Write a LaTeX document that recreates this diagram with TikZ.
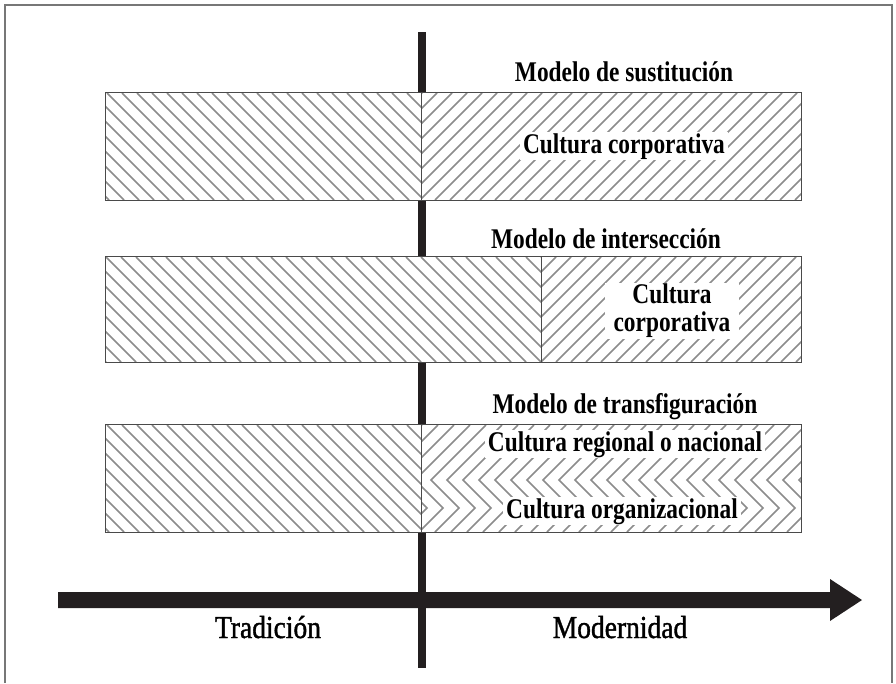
\documentclass[tikz,border=0pt]{standalone}
\usepackage{fontspec}
\newfontfamily\condserif[FakeStretch=0.82]{Liberation Serif}
\newfontfamily\axisserif[FakeStretch=0.86, FakeBold=1.2]{Liberation Serif}
\usetikzlibrary{positioning}
\definecolor{ink}{HTML}{231F20}
\definecolor{hatchgray}{HTML}{8C8C8C}
\definecolor{edgegray}{HTML}{4A4A4A}
\definecolor{framegray}{HTML}{777777}
\tikzset{
  band/.style={fill=white, inner sep=0pt, minimum width=695pt, minimum height=107pt},
  edge/.style={draw=edgegray, line width=1.3pt},
  hatch/.style={draw=hatchgray, line width=1.6pt},
  title/.style={anchor=base, font=\condserif\bfseries\fontsize{28.5}{28}\selectfont},
  tag/.style={title, fill=white, inner xsep=3pt, inner ysep=1pt},
  era/.style={anchor=base, font=\axisserif\fontsize{32}{34}\selectfont},
}

\begin{document}
\begin{tikzpicture}[x=1pt, y=-1pt]
  \useasboundingbox (0,0) rectangle (896,683);
  % Frame
  \draw[framegray, line width=2pt] (5,683) -- (5,5) -- (892,5) -- (892,683);

  % Axis and timeline
  \coordinate (axis top) at (421.5,32);
  \coordinate (axis bottom) at (421.5,668);
  \coordinate (past) at (58,600);
  \coordinate (future) at (862,600);
  \draw[ink, line width=8pt] (axis top) -- (axis bottom);
  \fill[ink] ([yshift=8pt]past) -- ++(772,0) -- ++(0,-13) -- (future)
    -- ++(-32,21) -- ++(0,-13) -- ++(-772,0) -- cycle;

  % Substitution model
  \node[band] (sust) at (453.5,146.5) {};
  \begin{scope}
    \clip (sust.north west) rectangle (sust.south -| axis top);
    \foreach \x in {-118,-103,...,422} \draw[hatch] (\x,93) -- ++(107,107);
  \end{scope}
  \begin{scope}
    \clip (sust.north -| axis top) rectangle (sust.south east);
    \foreach \x in {422,437,...,932} \draw[hatch] (\x,93) -- ++(-107,107);
  \end{scope}
  \draw[edge] (sust.north west) rectangle (sust.south east);
  \draw[edge, line width=1pt] (sust.north -| axis top) -- (sust.south -| axis top);

  % Intersection model
  \node[band, minimum height=105pt] (inter) at (453.5,309.5) {};
  \coordinate (inter cut) at (541,309.5);
  \begin{scope}
    \clip (inter.north west) rectangle (inter.south -| inter cut);
    \foreach \x in {-14,1,...,541} \draw[hatch] (\x,257) -- ++(105,105);
  \end{scope}
  \begin{scope}
    \clip (inter.north -| inter cut) rectangle (inter.south east);
    \foreach \x in {541,556,...,1006} \draw[hatch] (\x,257) -- ++(-105,105);
  \end{scope}
  \draw[edge] (inter.north west) rectangle (inter.south east);
  \draw[edge, line width=1pt] (inter.north -| inter cut) -- (inter.south -| inter cut);

  % Transfiguration model
  \node[band] (trans) at (453.5,478.5) {};
  \begin{scope}
    \clip (trans.north west) rectangle (trans.south -| axis top);
    \foreach \x in {-118,-103,...,422} \draw[hatch] (\x,425) -- ++(107,107);
  \end{scope}
  \begin{scope}
    \clip (trans.north -| axis top) rectangle (trans.south east);
    \foreach \x in {422,438,...,950}
      \draw[hatch] (\x,425) -- ++(-55,55) -- ++(28,28) -- ++(-24,24);
  \end{scope}
  \draw[edge] (trans.north west) rectangle (trans.south east);
  \draw[edge, line width=1pt] (trans.north -| axis top) -- (trans.south -| axis top);

  % Labels
  \node[title] (sust title) at (624,81) {Modelo de sustitución};
  \node[tag] (sust tag) at (624,153) {Cultura corporativa};
  \node[title] (inter title) at (606,248) {Modelo de intersección};
  \node[tag, anchor=center, align=center, inner xsep=9pt] (inter tag) at (672,311) {Cultura\\corporativa};
  \node[title] (trans title) at (625,413) {Modelo de transfiguración};
  \node[tag] (trans upper) at (625,451) {Cultura regional o nacional};
  \node[tag] (trans lower) at (622,518) {Cultura organizacional};
  \node[era] (tradicion) at (268,638) {Tradición};
  \node[era] (modernidad) at (620,638) {Modernidad};
\end{tikzpicture}
\end{document}
